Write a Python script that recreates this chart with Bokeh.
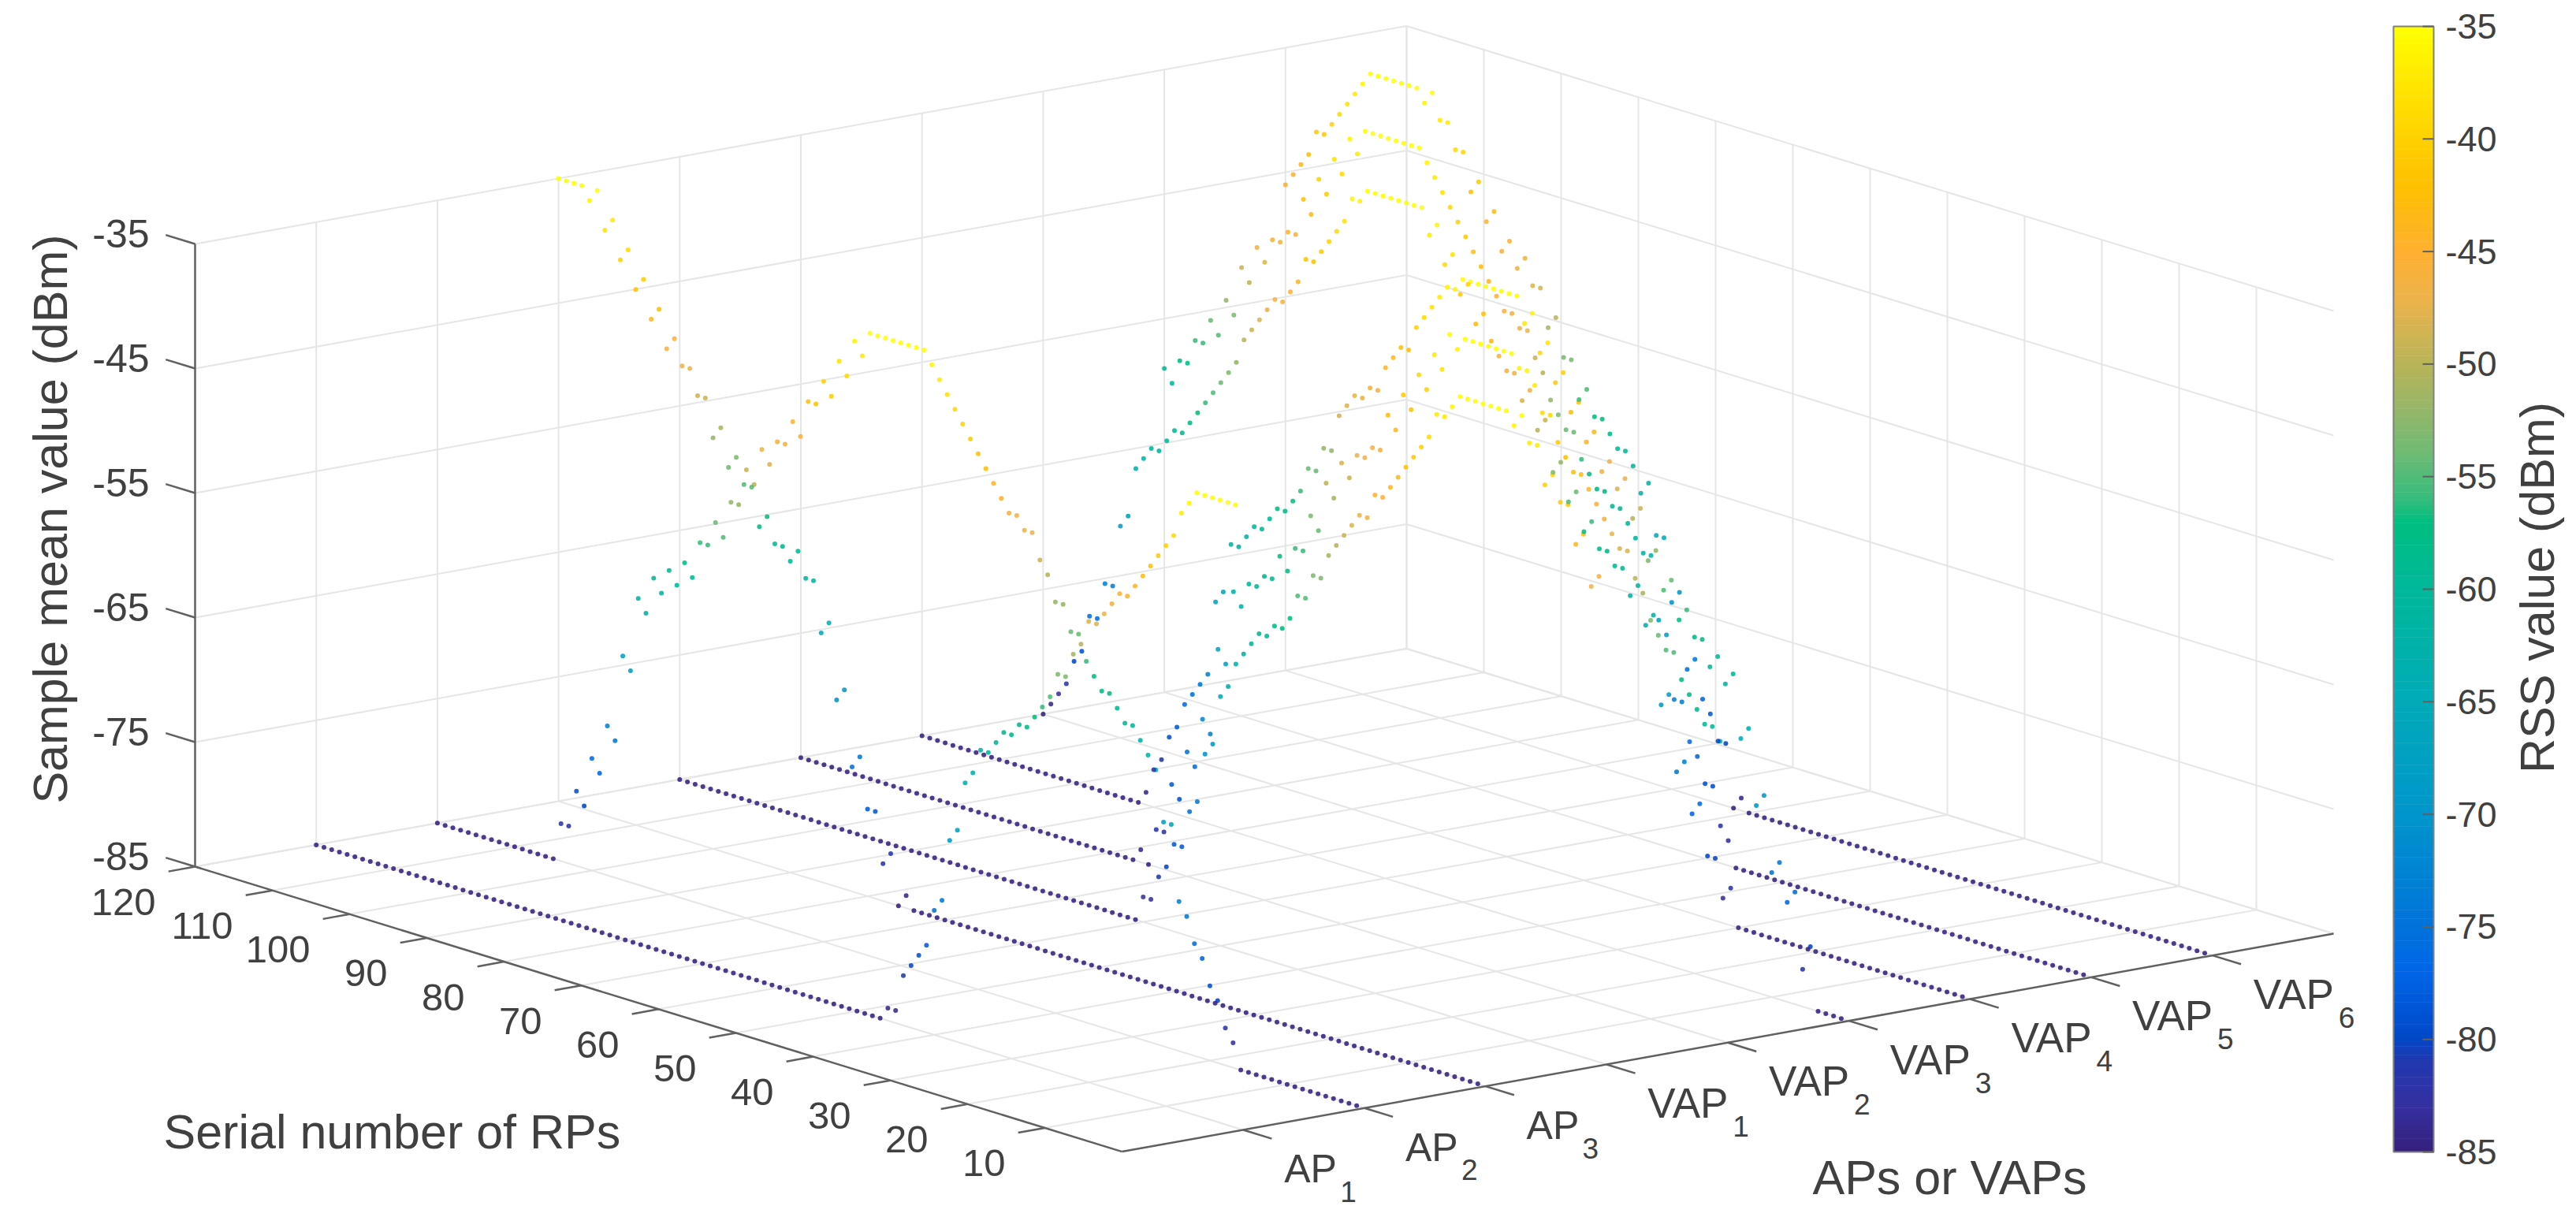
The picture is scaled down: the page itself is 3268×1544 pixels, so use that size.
import numpy as np
from bokeh.plotting import figure
from bokeh.models import Range1d, LinearColorMapper, ColumnDataSource
from bokeh.core.properties import value
from bokeh.embed import file_html
from bokeh.resources import INLINE

RP = list(range(1, 121))
AP_NAMES = ["AP", "AP", "AP", "VAP", "VAP", "VAP", "VAP", "VAP", "VAP"]
AP_SUBS = ["1", "2", "3", "1", "2", "3", "4", "5", "6"]
RP_TICKS = [10, 20, 30, 40, 50, 60, 70, 80, 90, 100, 110, 120]
Z_TICKS = [-35, -45, -55, -65, -75, -85]
CB_TICKS = [-35, -40, -45, -50, -55, -60, -65, -70, -75, -80, -85]

AP1 = [-35,-35,-35,-35,-35,-35,-36,-37,-39,-40,
       -41,-42,-43,-44,-45,-45,-46,-47,-48,-48,
       -50,-51,-53,-53,-55,-56,-57,-58,-58,-59,
       -59,-60,-61,-61,-63,-64,-68,-69,-74,-75,
       -78,-79,-80,-81,-84,-84,-85,-85,-85,-85,
       -85,-85,-85,-85,-85,-85,-85,-85,-85,-85,
       -85,-85,-85,-85,-85,-85,-85,-85,-85,-85,
       -85,-85,-85,-85,-85,-85,-85,-85,-85,-85,
       -85,-85,-85,-85,-85,-85,-85,-85,-85,-85,
       -85,-85,-85,-85,-85,-85,-85,-85,-85,-85,
       -85,-85,-85,-85,-85,-85,-85,-85,-85,-85,
       -85,-85,-85,-85,-85,-85,-85,-85,-85,-85]
AP2 = [-85,-85,-85,-85,-85,-85,-85,-85,-85,-85,
       -85,-85,-85,-85,-85,-85,-83,-82,-80,-79,
       -77,-76,-74,-73,-67,-67,-63,-62,-61,-60,
       -60,-59,-58,-58,-57,-56,-54,-54,-52,-52,
       -50,-49,-47,-47,-46,-46,-45,-44,-43,-42,
       -41,-40,-39,-38,-37,-36,-35,-35,-35,-35,
       -35,-35,-35,-35,-37,-36,-39,-38,-41,-40,
       -42,-42,-45,-44,-46,-46,-48,-47,-50,-49,
       -52,-52,-55,-54,-56,-56,-59,-58,-60,-59,
       -61,-60,-63,-62,-68,-67,-74,-73,-77,-76,
       -80,-79,-82,-82,-85,-85,-85,-85,-85,-85,
       -85,-85,-85,-85,-85,-85,-85,-85,-85,-85]
AP3 = [-85,-85,-85,-85,-85,-85,-85,-85,-85,-85,
       -85,-85,-85,-85,-85,-85,-85,-85,-85,-85,
       -85,-85,-85,-85,-85,-85,-85,-85,-85,-85,
       -85,-85,-85,-85,-85,-85,-85,-85,-85,-85,
       -85,-85,-85,-85,-85,-85,-85,-85,-85,-85,
       -85,-85,-85,-85,-85,-85,-85,-85,-85,-85,
       -85,-85,-85,-85,-85,-85,-85,-85,-85,-85,
       -85,-85,-85,-85,-84,-85,-81,-82,-78,-78,
       -74,-75,-69,-70,-64,-65,-61,-61,-59,-60,
       -59,-59,-57,-58,-55,-55,-53,-54,-51,-52,
       -49,-49,-47,-47,-45,-46,-43,-44,-41,-42,
       -39,-40,-37,-38,-35,-36,-35,-35,-35,-35]
VAP1 = [-46,-47,-43,-44,-41,-41,-39,-40,-37,-37,
        -35,-36,-35,-35,-35,-35,-35,-35,-35,-36,
        -37,-37,-39,-40,-41,-42,-43,-44,-45,-45,
        -47,-47,-48,-49,-50,-51,-53,-53,-55,-55,
        -57,-58,-58,-59,-59,-60,-61,-62,-64,-65,
        -69,-70,-74,-75,-78,-78,-80,-81,-83,-83,
        -85,-85,-85,-85,-85,-85,-85,-85,-85,-85,
        -85,-85,-85,-85,-85,-85,-85,-85,-85,-85,
        -85,-85,-85,-85,-85,-85,-85,-85,-85,-85,
        -85,-85,-85,-85,-85,-85,-85,-85,-85,-85,
        -85,-85,-85,-85,-85,-85,-85,-85,-85,-85,
        -85,-85,-85,-85,-85,-85,-85,-85,-85,-85]
VAP2 = [-61,-60,-60,-59,-58,-57,-55,-55,-54,-53,
        -51,-50,-48,-48,-47,-46,-45,-44,-43,-43,
        -42,-41,-39,-39,-37,-36,-36,-35,-35,-35,
        -35,-35,-35,-35,-36,-35,-38,-37,-40,-39,
        -42,-41,-44,-43,-46,-46,-47,-47,-49,-48,
        -51,-50,-54,-53,-56,-56,-58,-57,-59,-59,
        -60,-60,-62,-61,-67,-66,-73,-72,-76,-75,
        -79,-78,-82,-82,-85,-84,-85,-85,-85,-85,
        -85,-85,-85,-85,-85,-85,-85,-85,-85,-85,
        -85,-85,-85,-85,-85,-85,-85,-85,-85,-85,
        -85,-85,-85,-85,-85,-85,-85,-85,-85,-85,
        -85,-85,-85,-85,-85,-85,-85,-85,-85,-85]
VAP3 = [-85,-85,-85,-85,-80,-82,-76,-77,-74,-75,
        -69,-70,-64,-65,-60,-61,-59,-60,-58,-58,
        -56,-57,-54,-55,-52,-53,-49,-50,-47,-48,
        -46,-47,-44,-45,-42,-43,-40,-41,-38,-39,
        -36,-37,-35,-35,-35,-35,-35,-35,-35,-35,
        -36,-36,-37,-38,-39,-40,-42,-42,-43,-44,
        -46,-46,-47,-47,-48,-49,-52,-52,-54,-54,
        -56,-57,-58,-58,-59,-60,-60,-61,-62,-62,
        -66,-67,-73,-74,-75,-76,-78,-79,-81,-82,
        -84,-85,-85,-85,-85,-85,-85,-85,-85,-85,
        -85,-85,-85,-85,-85,-85,-85,-85,-85,-85,
        -85,-85,-85,-85,-85,-85,-85,-85,-85,-85]
VAP4 = [-85,-85,-85,-85,-85,-85,-85,-85,-85,-85,
        -85,-85,-85,-85,-85,-85,-85,-85,-85,-85,
        -85,-85,-85,-85,-85,-85,-85,-85,-85,-85,
        -82,-83,-80,-80,-76,-77,-73,-74,-68,-69,
        -62,-63,-60,-61,-59,-59,-58,-58,-56,-57,
        -54,-55,-52,-53,-49,-50,-47,-48,-46,-46,
        -45,-44,-42,-43,-40,-41,-38,-39,-36,-37,
        -35,-35,-35,-35,-35,-35,-35,-35,-36,-36,
        -38,-39,-40,-41,-42,-42,-44,-45,-46,-46,
        -47,-48,-49,-50,-52,-53,-54,-55,-56,-57,
        -58,-59,-59,-60,-61,-61,-62,-63,-67,-68,
        -73,-73,-76,-76,-79,-80,-82,-83,-84,-85]
VAP5 = [-85,-85,-85,-85,-85,-85,-85,-85,-85,-85,
        -85,-85,-85,-85,-85,-85,-85,-85,-85,-85,
        -85,-85,-85,-85,-85,-85,-85,-85,-85,-85,
        -85,-85,-85,-85,-85,-85,-85,-85,-85,-85,
        -85,-85,-85,-85,-85,-85,-83,-82,-79,-79,
        -77,-76,-73,-73,-68,-67,-62,-62,-61,-60,
        -59,-59,-58,-58,-57,-56,-54,-54,-53,-52,
        -50,-49,-47,-47,-46,-46,-45,-44,-43,-42,
        -41,-40,-39,-38,-37,-36,-35,-35,-35,-35,
        -35,-35,-35,-35,-37,-36,-39,-38,-41,-40,
        -43,-42,-45,-45,-46,-46,-48,-47,-50,-49,
        -53,-52,-55,-54,-56,-56,-58,-58,-60,-59]
VAP6 = [-85,-85,-85,-85,-85,-85,-85,-85,-85,-85,
        -85,-85,-85,-85,-85,-85,-85,-85,-85,-85,
        -85,-85,-85,-85,-85,-85,-85,-85,-85,-85,
        -85,-85,-85,-85,-85,-85,-85,-85,-85,-85,
        -85,-85,-85,-85,-85,-85,-85,-85,-85,-85,
        -85,-85,-85,-85,-85,-85,-85,-85,-85,-85,
        -84,-85,-80,-80,-78,-77,-74,-75,-69,-70,
        -65,-65,-61,-62,-60,-59,-59,-58,-57,-57,
        -55,-56,-53,-53,-50,-51,-48,-48,-46,-47,
        -45,-46,-43,-44,-41,-42,-39,-39,-37,-37,
        -35,-36,-35,-35,-35,-35,-35,-35,-35,-36,
        -37,-38,-39,-40,-41,-41,-43,-44,-45,-46]
SERIES = [AP1, AP2, AP3, VAP1, VAP2, VAP3, VAP4, VAP5, VAP6]
for s in SERIES:
    assert len(s) == 120

CMAP_STOPS = [-85, -83, -81, -80, -77, -75, -70, -65, -60, -57, -56, -54, -52, -50, -47, -45, -42, -40, -37, -35]
CMAP_COLORS = ["#35207F", "#3530A0", "#2038B0", "#0048C8", "#0066E8", "#0073DA", "#0096CC", "#00ABB8",
               "#00B89A", "#00BE80", "#35BC7C", "#6DBB75", "#95B668", "#B8B458", "#EDB34B", "#FFB030",
               "#FFC000", "#FFD000", "#FFEA00", "#FFFF00"]


def hex2rgb(h):
    return [int(h[i:i + 2], 16) for i in (1, 3, 5)]


rgb = np.array([hex2rgb(c) for c in CMAP_COLORS], float)
levels = np.linspace(-85, -35, 256)
palette = ["#%02X%02X%02X" % tuple(int(round(np.interp(l, CMAP_STOPS, rgb[:, k]))) for k in range(3)) for l in levels]
mapper = LinearColorMapper(palette=palette, low=-85, high=-35)


def px(a, r):
    return 1423 + 153.7 * np.asarray(a, float) - 9.8 * np.asarray(r, float)


def py(a, r, z):
    return 1460.6 - 27.66 * np.asarray(a, float) - 3.013 * np.asarray(r, float) - (np.asarray(z, float) + 85) * 15.8


FONT = value("Liberation Sans")
TXT = "#404040"
p = figure(width=3260, height=1536, x_range=Range1d(0, 3260), y_range=Range1d(1536, 0),
           output_backend="svg", toolbar_location=None, x_axis_type=None, y_axis_type=None,
           min_border=0, outline_line_color=None, background_fill_color="white")
p.grid.visible = False


def segs(items, color, width):
    xs, ys = [], []
    for (a0, r0, z0), (a1, r1, z1) in items:
        xs.append([float(px(a0, r0)), float(px(a1, r1))])
        ys.append([float(py(a0, r0, z0)), float(py(a1, r1, z1))])
    p.multi_line(xs, ys, line_color=color, line_width=width)


grid = []
for r in range(10, 121, 10):
    grid.append(((0, r, -85), (10, r, -85)))
    grid.append(((10, r, -85), (10, r, -35)))
for a in range(1, 11):
    grid.append(((a, 0, -85), (a, 120, -85)))
    grid.append(((a, 120, -85), (a, 120, -35)))
for z in Z_TICKS:
    grid.append(((0, 120, z), (10, 120, z)))
    grid.append(((10, 120, z), (10, 0, z)))
segs(grid, "#E6E6E6", 2)

axes = [((0, 120, -85), (0, 120, -35)), ((0, 120, -85), (0, 0, -85)), ((0, 0, -85), (10, 0, -85))]
for z in Z_TICKS:
    axes.append(((0, 120, z), (0, 123.8, z)))
for r in RP_TICKS:
    axes.append(((0, r, -85), (-0.22, r, -85)))
for a in range(1, 10):
    axes.append(((a, 0, -85), (a, -3.7, -85)))
segs(axes, "#606060", 2.5)

# data
sx, sy, sz = [], [], []
for i, s in enumerate(SERIES):
    a = i + 1
    sx.extend(px(a, RP).tolist())
    sy.extend(py(a, RP, s).tolist())
    sz.extend(s)
src = ColumnDataSource(dict(x=sx, y=sy, z=sz))
p.scatter("x", "y", source=src, size=6, line_color=None, fill_alpha=0.88,
          fill_color={"field": "z", "transform": mapper})


def txt(x, y, t, size, align="left", base="alphabetic", angle=0.0):
    if base == "alphabetic":
        # the rendered text sits below the requested baseline by about a third of its size
        if angle:
            x -= 0.34 * size
        else:
            y -= 0.34 * size
    p.text([x], [y], text=[t], text_font=FONT, text_font_size=value(f"{size}px"), text_color=TXT,
           text_align=align, text_baseline=base, angle=angle)


# tick labels
for z in Z_TICKS:
    txt(189, float(py(0, 120, z)) - 13, str(z), 50, "right", "middle")
for r in RP_TICKS:
    txt(float(px(0, r)) - 50, float(py(0, r, -85)) + 45, str(r), 49, "right", "middle")
for i, (n, sub) in enumerate(zip(AP_NAMES, AP_SUBS)):
    a = i + 1
    bx, by = float(px(a, 0)), float(py(a, 0, -85))
    txt(bx + 52, by + 67, n, 50 if n == "AP" else 53)
    w = 71 if n == "AP" else 108
    txt(bx + 52 + w, by + 91, sub, 37)

txt(84, 658, "Sample mean value (dBm)", 61, "center", "alphabetic", np.pi / 2)
txt(207, 1456, "Serial number of RPs", 61)
txt(2299, 1514, "APs or VAPs", 61)

# colorbar
cb_x0, cb_x1, cb_top, cb_bot = 3036, 3087, 33, 1461
cb_y = lambda v: cb_bot + (np.asarray(v, float) + 85) * (cb_top - cb_bot) / 50
edges = np.linspace(-85, -35, 257)
p.quad(left=cb_x0, right=cb_x1, top=cb_y(edges[1:]) - 0.5, bottom=cb_y(edges[:-1]),
       fill_color=palette, line_color=None)
p.quad(left=[cb_x0], right=[cb_x1], top=[cb_top], bottom=[cb_bot], fill_color=None,
       line_color="#808080", line_width=2)
tx0 = [cb_x1 - 14 for _ in CB_TICKS]
tx1 = [cb_x1 for _ in CB_TICKS]
p.segment(x0=tx0, x1=tx1, y0=cb_y(CB_TICKS), y1=cb_y(CB_TICKS), line_color="#606060", line_width=2)
for v in CB_TICKS:
    txt(3102, float(cb_y(v)), str(v), 45, "left", "middle")
txt(3239, 745, "RSS value (dBm)", 61, "center", "alphabetic", np.pi / 2)

open("out.html", "w").write(file_html(p, INLINE))
